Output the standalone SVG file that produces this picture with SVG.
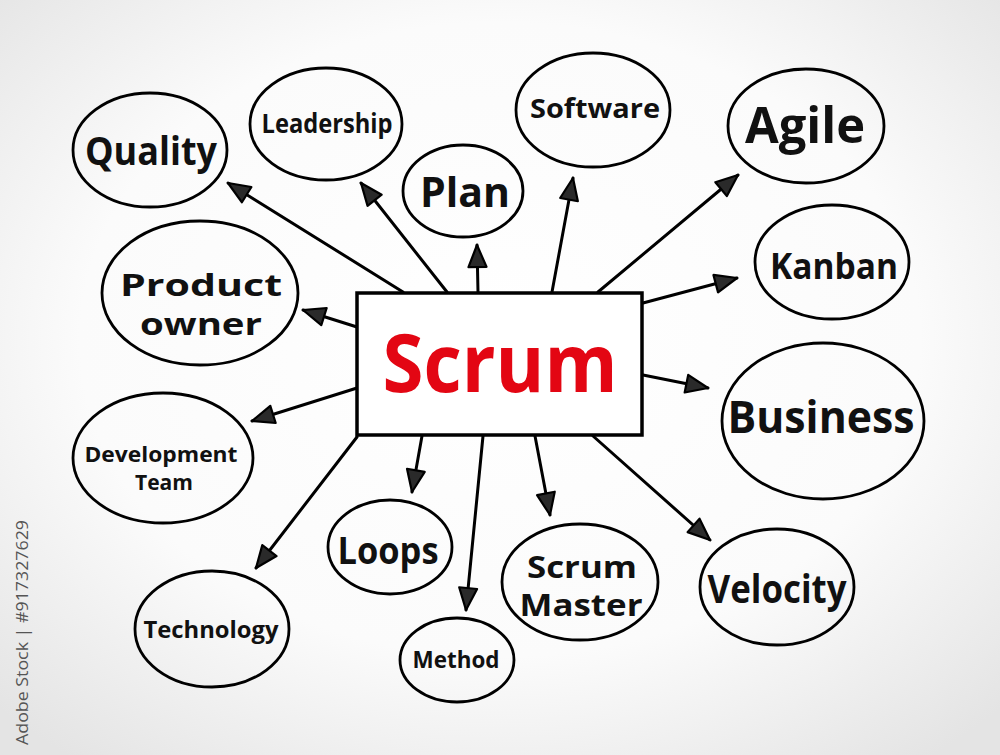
<svg xmlns="http://www.w3.org/2000/svg" width="1000" height="755" viewBox="0 0 1000 755">
<defs>
<radialGradient id="bg" cx="50%" cy="45%" r="70%">
<stop offset="0" stop-color="#ffffff"/>
<stop offset="0.6" stop-color="#fbfbfb"/>
<stop offset="1" stop-color="#e4e4e4"/>
</radialGradient>
<marker id="ah" viewBox="0 0 26 22" refX="24" refY="11" markerWidth="26" markerHeight="22" markerUnits="userSpaceOnUse" orient="auto">
<path d="M2,2 L24,11 L2,20 Z" fill="#2a2a2a" stroke="#000" stroke-width="2.2" stroke-linejoin="round"/>
</marker>
<style>
.el{fill:none;stroke:#000;stroke-width:2.8}
.t{font-family:"Open Sans","DejaVu Sans",sans-serif;font-weight:700;fill:#111;text-anchor:middle}
.c{fill:none;stroke:#000;stroke-width:3;stroke-linecap:round;marker-end:url(#ah)}
</style>
</defs>
<rect width="1000" height="755" fill="url(#bg)"/>
<text transform="translate(28,745) rotate(-90)" font-family="'Open Sans','DejaVu Sans',sans-serif" font-size="17" fill="#555" textLength="225" lengthAdjust="spacingAndGlyphs">Adobe Stock | #917327629</text>

<g id="connectors">
<line class="c" x1="403" y1="292" x2="228" y2="183"/>
<line class="c" x1="447" y1="292" x2="361" y2="183"/>
<line class="c" x1="478" y1="292" x2="477" y2="245"/>
<line class="c" x1="552" y1="292" x2="573" y2="178"/>
<line class="c" x1="598" y1="292" x2="738" y2="175"/>
<line class="c" x1="643" y1="303" x2="737" y2="278"/>
<line class="c" x1="643" y1="375" x2="708" y2="388"/>
<line class="c" x1="593" y1="436" x2="710" y2="540"/>
<line class="c" x1="535" y1="436" x2="550" y2="515"/>
<line class="c" x1="483" y1="436" x2="466" y2="610"/>
<line class="c" x1="422" y1="436" x2="412" y2="492"/>
<line class="c" x1="357" y1="437" x2="256" y2="568"/>
<line class="c" x1="357" y1="388" x2="252" y2="421"/>
<line class="c" x1="357" y1="327" x2="303" y2="310"/>
</g>

<g id="scrum">
<rect x="357" y="293" width="285" height="142" fill="#fff" stroke="#000" stroke-width="3.5"/>
<text x="500" y="392" font-family="'Open Sans','DejaVu Sans',sans-serif" font-weight="700" font-size="80" fill="#e30613" text-anchor="middle" textLength="235" lengthAdjust="spacingAndGlyphs">Scrum</text>
</g>

<g id="quality"><ellipse class="el" cx="150" cy="150" rx="77" ry="57"/><text class="t" x="151" y="165" font-size="40" textLength="132" lengthAdjust="spacingAndGlyphs">Quality</text></g>
<g id="leadership"><ellipse class="el" cx="326" cy="124" rx="76" ry="56"/><text class="t" x="327" y="133" font-size="26" textLength="131" lengthAdjust="spacingAndGlyphs">Leadership</text></g>
<g id="plan"><ellipse class="el" cx="463" cy="191" rx="60" ry="46"/><text class="t" x="465" y="207" font-size="42" textLength="90" lengthAdjust="spacingAndGlyphs">Plan</text></g>
<g id="software"><ellipse class="el" cx="593" cy="110" rx="77" ry="57"/><text class="t" x="595" y="118" font-size="26" textLength="130" lengthAdjust="spacingAndGlyphs">Software</text></g>
<g id="agile"><ellipse class="el" cx="806" cy="126" rx="78" ry="57"/><text class="t" x="805" y="143" font-size="50" textLength="120" lengthAdjust="spacingAndGlyphs">Agile</text></g>
<g id="kanban"><ellipse class="el" cx="832" cy="262" rx="77" ry="57"/><text class="t" x="834" y="279" font-size="36" textLength="128" lengthAdjust="spacingAndGlyphs">Kanban</text></g>
<g id="business"><ellipse class="el" cx="823" cy="421" rx="101" ry="78"/><text class="t" x="821" y="433" font-size="44" textLength="187" lengthAdjust="spacingAndGlyphs">Business</text></g>
<g id="velocity"><ellipse class="el" cx="777" cy="587" rx="77" ry="58"/><text class="t" x="777" y="603" font-size="40" textLength="139" lengthAdjust="spacingAndGlyphs">Velocity</text></g>
<g id="scrum-master"><ellipse class="el" cx="580" cy="582" rx="78" ry="58"/><text class="t" x="582" y="578" font-size="31" textLength="110" lengthAdjust="spacingAndGlyphs">Scrum</text><text class="t" x="581" y="616" font-size="31" textLength="123" lengthAdjust="spacingAndGlyphs">Master</text></g>
<g id="method"><ellipse class="el" cx="457" cy="660" rx="57" ry="42"/><text class="t" x="456" y="668" font-size="24" textLength="87" lengthAdjust="spacingAndGlyphs">Method</text></g>
<g id="loops"><ellipse class="el" cx="390" cy="547" rx="62" ry="47"/><text class="t" x="388" y="564" font-size="38" textLength="101" lengthAdjust="spacingAndGlyphs">Loops</text></g>
<g id="technology"><ellipse class="el" cx="212" cy="629" rx="77" ry="58"/><text class="t" x="211" y="638" font-size="24" textLength="135" lengthAdjust="spacingAndGlyphs">Technology</text></g>
<g id="development-team"><ellipse class="el" cx="163" cy="458" rx="90" ry="65"/><text class="t" x="161" y="462" font-size="22" textLength="153" lengthAdjust="spacingAndGlyphs">Development</text><text class="t" x="164" y="490" font-size="22" textLength="58" lengthAdjust="spacingAndGlyphs">Team</text></g>
<g id="product-owner"><ellipse class="el" cx="200" cy="293" rx="98" ry="72"/><text class="t" x="201" y="296" font-size="31" textLength="162" lengthAdjust="spacingAndGlyphs">Product</text><text class="t" x="201" y="335" font-size="31" textLength="122" lengthAdjust="spacingAndGlyphs">owner</text></g>
</svg>
